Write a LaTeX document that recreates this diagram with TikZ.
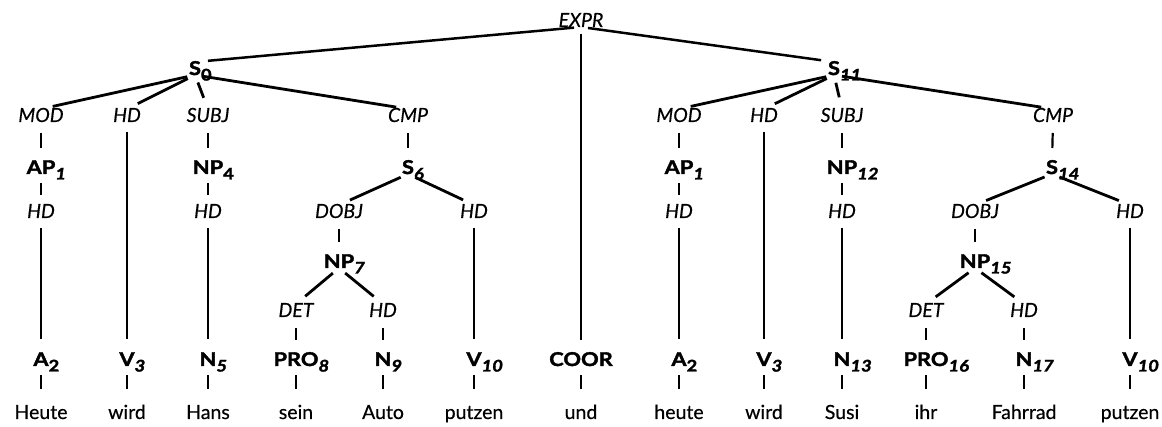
\documentclass[tikz,border=0pt]{standalone}
\usepackage{fontspec}
\setmainfont[FakeBold=0.4]{Lato}
\newfontfamily\catf[FakeStretch=1.15,FakeBold=2]{Lato}
\newcommand\subu[1]{\rlap{\raisebox{-5.5pt}{\fontsize{16}{16}\catf\bfseries #1}}}
\newcommand\subi[1]{\rlap{\raisebox{-5.5pt}{\fontsize{16}{16}\catf\bfseries\itshape #1}}}
\begin{document}
\begin{tikzpicture}[x=1pt,y=-1pt,
  every node/.style={inner sep=0pt,outer sep=0pt,anchor=base,text height=13pt,text depth=0pt,font=\fontsize{19}{22}\selectfont},
  fn/.style={font=\fontsize{19.5}{22}\selectfont\itshape},
  cat/.style={font=\fontsize{19}{22}\catf\bfseries},
  wd/.style={font=\fontsize{19.5}{22}\selectfont},
  ln/.style={line width=2.2pt,line cap=butt},
  topl/.style={ln,line width=2.5pt,shorten <=7pt,shorten >=13pt},
  fan/.style={ln,line width=2.8pt,shorten <=8pt,shorten >=12pt},
  link/.style={ln,shorten <=11pt,shorten >=13pt},
  up/.style={ln,shorten <=9pt,shorten >=10pt},
  long/.style={ln,shorten <=10pt,shorten >=14pt},
  lex/.style={ln,shorten <=9pt,shorten >=17pt}]
\useasboundingbox (0,0) rectangle (1162,427);
% top
\node[fn] (expr) at (581,27) {EXPR};
\node[cat] (s0) at (195,75) {S\subu{0}};
\node[cat] (s11) at (834,75) {S\subi{11}};
% row 1
\node[fn] (mod1) at (41,122) {MOD};
\node[fn] (hd1) at (127,122) {HD};
\node[fn] (subj1) at (208,122) {SUBJ};
\node[fn] (cmp1) at (408,122) {CMP};
\node[fn] (mod2) at (679,122) {MOD};
\node[fn] (hd2) at (764,122) {HD};
\node[fn] (subj2) at (842,122) {SUBJ};
\node[fn] (cmp2) at (1053,122) {CMP};
% row 2
\node[cat] (ap1) at (41,174) {AP\subi{1}};
\node[cat] (np4) at (208,174) {NP\subu{4}};
\node[cat] (s6) at (408,174) {S\subi{6}};
\node[cat] (ap1b) at (679,174) {AP\subi{1}};
\node[cat] (np12) at (842,174) {NP\subi{12}};
\node[cat] (s14) at (1052,174) {S\subi{14}};
% row 3
\node[fn] (hda) at (41,218) {HD};
\node[fn] (hdb) at (208,218) {HD};
\node[fn] (dobj1) at (339,218) {DOBJ};
\node[fn] (hdc) at (474,218) {HD};
\node[fn] (hdd) at (679,218) {HD};
\node[fn] (hde) at (842,218) {HD};
\node[fn] (dobj2) at (975,218) {DOBJ};
\node[fn] (hdf) at (1130,218) {HD};
% row 4
\node[cat] (np7) at (339,268) {NP\subi{7}};
\node[cat] (np15) at (975,268) {NP\subi{15}};
% row 5
\node[fn] (det1) at (296,317) {DET};
\node[fn] (hdg) at (383,317) {HD};
\node[fn] (det2) at (926,317) {DET};
\node[fn] (hdh) at (1024,317) {HD};
% row 6
\node[cat] (a2) at (41,366) {A\subu{2}};
\node[cat] (v3) at (127,366) {V\subi{3}};
\node[cat] (n5) at (208,366) {N\subi{5}};
\node[cat] (pro8) at (296,366) {PRO\subi{8}};
\node[cat] (n9) at (383,366) {N\subi{9}};
\node[cat] (v10) at (474,366) {V\subi{10}};
\node[cat] (coor) at (581,366) {COOR};
\node[cat] (a2b) at (679,366) {A\subu{2}};
\node[cat] (v3b) at (764,366) {V\subi{3}};
\node[cat] (n13) at (842,366) {N\subi{13}};
\node[cat] (pro16) at (926,366) {PRO\subi{16}};
\node[cat] (n17) at (1024,366) {N\subi{17}};
\node[cat] (v10b) at (1130,366) {V\subi{10}};
% row 7
\node[wd] (w1) at (41,419) {Heute};
\node[wd] (w2) at (127,419) {wird};
\node[wd] (w3) at (208,419) {Hans};
\node[wd] (w4) at (296,419) {sein};
\node[wd] (w5) at (383,419) {Auto};
\node[wd] (w6) at (474,419) {putzen};
\node[wd] (w7) at (581,419) {und};
\node[wd] (w8) at (679,419) {heute};
\node[wd] (w9) at (764,419) {wird};
\node[wd] (w10) at (842,419) {Susi};
\node[wd] (w11) at (926,419) {ihr};
\node[wd] (w12) at (1024,419) {Fahrrad};
\node[wd] (w13) at (1130,419) {putzen};
% connectors
\draw[topl] (expr.south) -- (s0.north);
\draw[topl] (expr.south) -- (s11.north);
\draw[ln,shorten <=7pt,shorten >=13pt] (expr.south) -- (coor.north);
\foreach \c in {mod1,hd1,subj1,cmp1} \draw[fan] (s0.south) -- (\c.north);
\foreach \c in {mod2,hd2,subj2,cmp2} \draw[fan] (s11.south) -- (\c.north);
\draw[link] (mod1.south) -- (ap1.north);
\draw[link] (subj1.south) -- (np4.north);
\draw[link] (cmp1.south) -- (s6.north);
\draw[link] (mod2.south) -- (ap1b.north);
\draw[link] (subj2.south) -- (np12.north);
\draw[link] (cmp2.south) -- (s14.north);
\draw[up] (ap1.south) -- (hda.north);
\draw[up] (np4.south) -- (hdb.north);
\draw[up] (ap1b.south) -- (hdd.north);
\draw[up] (np12.south) -- (hde.north);
\draw[fan] (s6.south) -- (dobj1.north);
\draw[fan] (s6.south) -- (hdc.north);
\draw[fan] (s14.south) -- (dobj2.north);
\draw[fan] (s14.south) -- (hdf.north);
\draw[link] (dobj1.south) -- (np7.north);
\draw[link] (dobj2.south) -- (np15.north);
\draw[fan] (np7.south) -- (det1.north);
\draw[fan] (np7.south) -- (hdg.north);
\draw[fan] (np15.south) -- (det2.north);
\draw[fan] (np15.south) -- (hdh.north);
\draw[link] (det1.south) -- (pro8.north);
\draw[link] (hdg.south) -- (n9.north);
\draw[link] (det2.south) -- (pro16.north);
\draw[link] (hdh.south) -- (n17.north);
\draw[long] (hda.south) -- (a2.north);
\draw[long] (hd1.south) -- (v3.north);
\draw[long] (hdb.south) -- (n5.north);
\draw[long] (hdc.south) -- (v10.north);
\draw[long] (hdd.south) -- (a2b.north);
\draw[long] (hd2.south) -- (v3b.north);
\draw[long] (hde.south) -- (n13.north);
\draw[long] (hdf.south) -- (v10b.north);
\foreach \a/\b in {a2/w1,v3/w2,n5/w3,pro8/w4,n9/w5,v10/w6,coor/w7,a2b/w8,v3b/w9,n13/w10,pro16/w11,n17/w12,v10b/w13}
  \draw[lex] (\a.south) -- (\b.north);
\end{tikzpicture}
\end{document}
